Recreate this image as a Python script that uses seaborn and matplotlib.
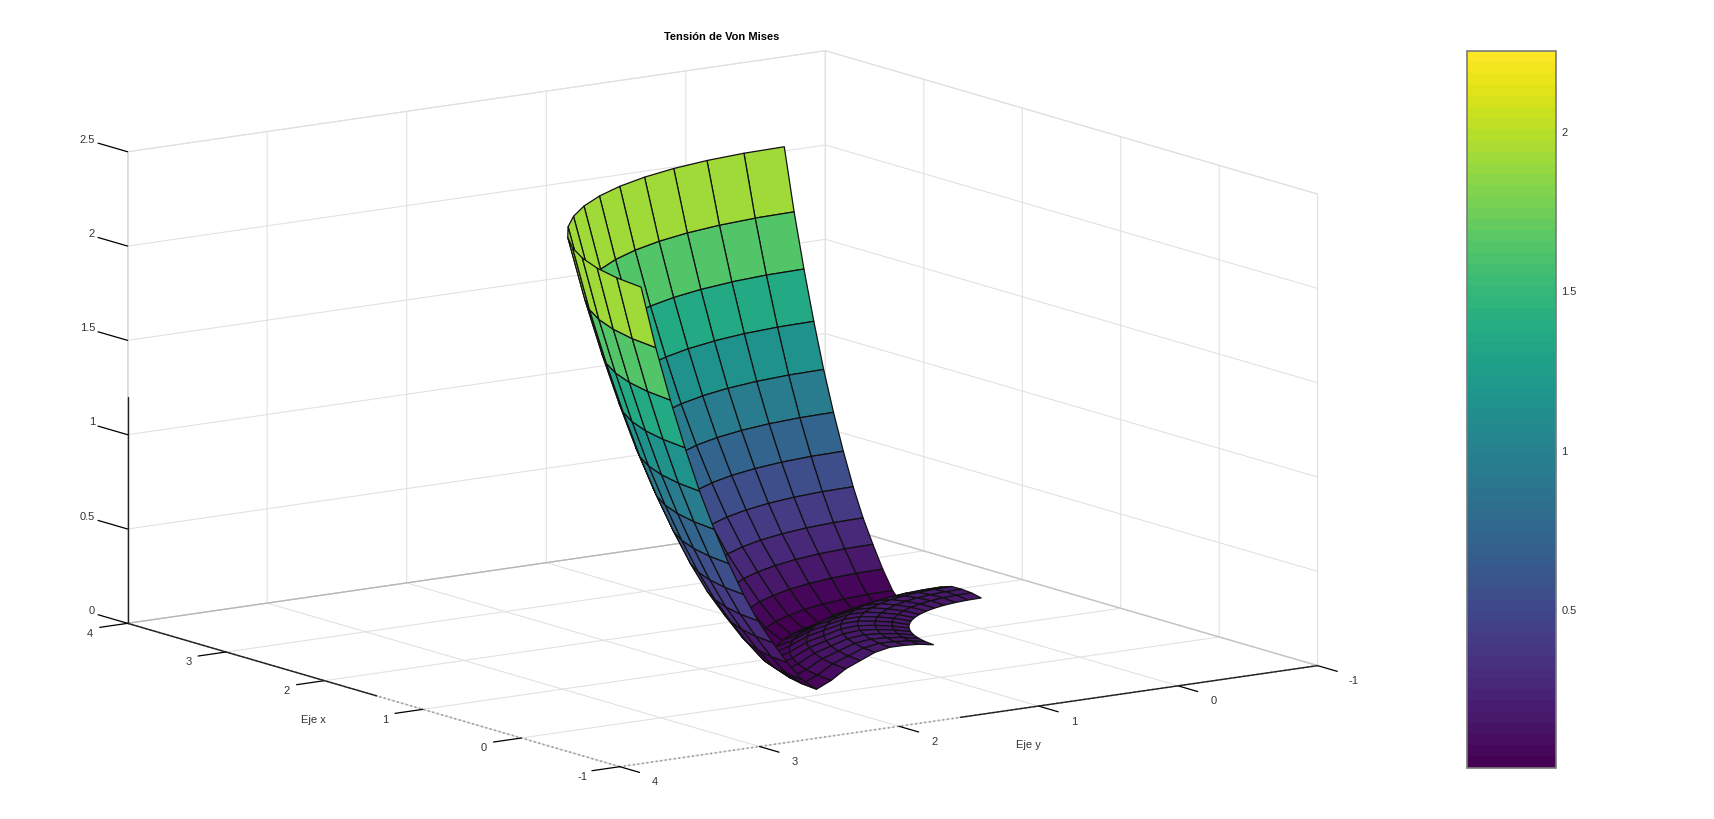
import numpy as np
import seaborn as sns
from matplotlib import pyplot as plt
from matplotlib.cm import ScalarMappable
from matplotlib.colors import Normalize
from mpl_toolkits.mplot3d import proj3d

# malla polar de la placa con agujero
radios = [1.0, 1.1, 1.2, 1.3, 1.4, 1.5, 1.6, 1.7, 1.8, 1.9, 2.0,
          2.1, 2.2, 2.3, 2.4, 2.5, 2.6, 2.7, 2.8, 2.9, 3.0]
angulos = [0.0, 0.1, 0.2, 0.3, 0.4, 0.5, 0.6, 0.7, 0.8, 0.9, 1.0, 1.1, 1.2, 1.3, 1.4, 1.5]
tension = [0.162, 0.174, 0.178, 0.177, 0.16, 0.126, 0.092, 0.04, 0.003, 0.065, 0.163,
           0.279, 0.404, 0.554, 0.727, 0.918, 1.13, 1.37, 1.632, 1.92, 2.25]

ticks_xy = [-1, 0, 1, 2, 3, 4]
ticks_z = [0, 0.5, 1, 1.5, 2, 2.5]
ticks_barra = [0.5, 1, 1.5, 2]
etiquetas_z = ['0', '0.5', '1', '1.5', '2', '2.5']
tension_min, tension_max = 0.002, 2.252

sns.set_theme(style='white', rc={'grid.color': '#e0e0e0', 'grid.linewidth': 0.75,
                                 'axes.grid': True, 'axes.unicode_minus': False})
plt.rcParams['font.family'] = ['Liberation Sans', 'DejaVu Sans']
color_texto = '#333333'

fig = plt.figure(figsize=(17.14, 8.2), dpi=100)
ancho, alto = 1714, 820
ax = fig.add_axes([74.4 / ancho, -237.9 / alto, 1262.3 / ancho, 1262.3 / alto],
                  projection='3d', proj_type='ortho', computed_zorder=False)
ax.view_init(elev=11.85, azim=144.81)
ax.set_box_aspect((781.4, 781.1, 440.8))
ax.set_xlim(-1, 4, view_margin=0)
ax.set_ylim(-1, 4, view_margin=0)
ax.set_zlim(0, 2.5, view_margin=0)

X = np.outer(radios, np.cos(angulos))
Y = np.outer(radios, np.sin(angulos))
Z = np.outer(tension, np.ones(len(angulos)))

paleta = plt.get_cmap('viridis', 64)
norma = Normalize(tension_min, tension_max)
# cada celda toma el color de su vertice de radio menor, como octave
surf = ax.plot_surface(X, Y, Z, rstride=1, cstride=1, facecolors=paleta(norma(Z)),
                       shade=False, linewidth=0.9, antialiased=True, zorder=5)
surf.set_edgecolor('#111111')

ax.set_xticks(ticks_xy)
ax.set_yticks(ticks_xy)
ax.set_zticks(ticks_z)
ax.zaxis.set_ticks_position('upper')

for eje in (ax.xaxis, ax.yaxis, ax.zaxis):
    eje.set_pane_color((1, 1, 1, 1))
    eje.pane.set_edgecolor('#dedede')
    eje.pane.set_linewidth(0.75)
    eje._axinfo['tick']['inward_factor'] = 0.5
    eje._axinfo['tick']['outward_factor'] = 0.0
    eje._axinfo['tick']['linewidth'] = {True: 0.9, False: 0.9}
    # etiquetas escritas a mano mas abajo
    eje.set_tick_params(color='black', label1On=False, label2On=False)
# las marcas de z van hacia +x, se dibujan abajo
ax.zaxis._axinfo['tick']['linewidth'] = {True: 0.0, False: 0.0}

ax.xaxis.line.set_color('#999999')
ax.xaxis.line.set_linestyle(':')
ax.yaxis.line.set_color('#999999')
ax.yaxis.line.set_linestyle(':')
ax.zaxis.line.set_color('#dddddd')

# bordes traseros del suelo
ax.plot([4, 4], [4, -1], [0, 0], color='#b4b4b4', lw=0.9)
ax.plot([4, -1], [-1, -1], [0, 0], color='#c4c4c4', lw=0.9)
# tramos oscuros de los ejes
ax.plot([4, 1.47], [4, 4], [0, 0], color='#222222', lw=1.0)
ax.plot([-1, -1], [-1, 1.56], [0, 0], color='#222222', lw=1.0)
ax.plot([4, 4], [4, 4], [0, 1.2], color='#222222', lw=1.0)


def etiqueta(x, y, z, texto, ha='center'):
    # texto 2D en el punto proyectado de (x, y, z)
    px, py, _ = proj3d.proj_transform(x, y, z, ax.get_proj())
    ax.text2D(px, py, texto, transform=ax.transData, fontsize=8, color=color_texto, ha=ha, va='center')


for valor, texto in zip(ticks_z, etiquetas_z):
    ax.plot([4, 4.3], [4, 4], [valor, valor], color='black', lw=0.9)
    etiqueta(4.33, 4, valor + 0.02, texto, ha='right')
for valor in ticks_xy:
    etiqueta(valor, 4.27, -0.02, str(valor))
    etiqueta(-1.36, valor, -0.022, str(valor))

fig.suptitle('Tensión de Von Mises', x=722 / ancho, y=1 - 37 / alto, fontsize=8,
             fontweight='bold', color='black', va='center')
fig.text(313 / ancho, 1 - 720 / alto, 'Eje x', fontsize=8, color=color_texto, ha='center', va='center')
fig.text(1028 / ancho, 1 - 745 / alto, 'Eje y', fontsize=8, color=color_texto, ha='center', va='center')

cax = fig.add_axes([1467 / ancho, 1 - 768.5 / alto, 89 / ancho, 716.5 / alto])
cbar = fig.colorbar(ScalarMappable(norma, paleta), cax=cax, ticks=ticks_barra)
cbar.ax.set_yticklabels(['0.5', '1', '1.5', '2'])
cbar.ax.tick_params(axis='y', direction='in', left=True, right=True, length=7, width=0.9,
                    color='#222222', labelsize=8, labelcolor=color_texto, pad=4)
cbar.outline.set_edgecolor('#7a7a7a')
cbar.outline.set_linewidth(1.2)

fig.savefig('out.png', dpi=100)
